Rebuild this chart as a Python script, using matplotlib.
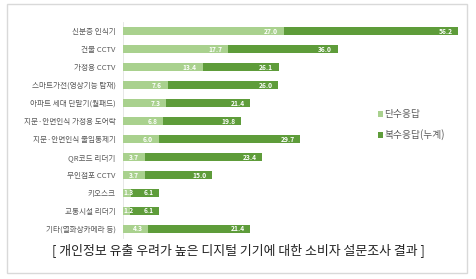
import matplotlib
matplotlib.use('Agg')
import matplotlib.pyplot as plt
from matplotlib.patches import Rectangle

plt.rcParams['font.family'] = ['Noto Sans CJK KR', 'DejaVu Sans']

categories = ['신분증 인식기', '건물 CCTV', '가정용 CCTV', '스마트가전(영상기능 탑재)',
              '아파트 세대 단말기(월패드)', '지문·안면인식 가정용 도어락', '지문·안면인식 출입통제기',
              'QR코드 리더기', '무인점포 CCTV', '키오스크', '교통시설 리더기', '기타(열화상카메라 등)']
single = [27.0, 17.7, 13.4, 7.6, 7.3, 6.8, 6.0, 3.7, 3.7, 1.3, 1.2, 4.3]
multi = [56.2, 36.0, 26.1, 26.0, 21.4, 19.8, 29.7, 23.4, 15.0, 6.1, 6.1, 21.4]
series_names = ['단수응답', '복수응답(누계)']
caption = '[ 개인정보 유출 우려가 높은 디지털 기기에 대한 소비자 설문조사 결과 ]'

light = '#a9d18e'
dark = '#5e9c3a'

fig = plt.figure(figsize=(4.76, 2.79), dpi=100)
ax = fig.add_axes([0.258, 0.147, 0.727, 0.774])

y = list(range(len(categories)))
b2 = ax.barh(y, multi, height=0.45, color=dark, label=series_names[1], zorder=2)
b1 = ax.barh(y, single, height=0.45, color=light, label=series_names[0], zorder=3)

for yi, s, m in zip(y, single, multi):
    if s >= 3:
        ax.text(s - 1.0, yi, f'{s:.1f}', ha='right', va='center', fontsize=4.8,
                color='white', fontweight='bold', zorder=4)
    else:
        ax.text(s / 2 + 0.3, yi, f'{s:.1f}', ha='center', va='center', fontsize=4.8,
                color='white', fontweight='bold', zorder=4)
    ax.text(m - 0.9, yi, f'{m:.1f}', ha='right', va='center', fontsize=4.8,
            color='white', fontweight='bold', zorder=4)

ax.set_xlim(0, 58)
ax.set_ylim(len(categories) - 0.5, -0.5)
ax.set_yticks(y)
ax.set_yticklabels(categories, fontsize=5.5, color='#595959')
ax.set_xticks([])
ax.tick_params(axis='y', length=0, pad=5)
for sp in ['top', 'right', 'bottom']:
    ax.spines[sp].set_visible(False)
ax.spines['left'].set_color('#e3e3e3')
ax.spines['left'].set_linewidth(0.6)

ax.legend(handles=[b1, b2], loc='upper left', bbox_to_anchor=(0.775, 0.64),
          bbox_transform=fig.transFigure, frameon=False, fontsize=7,
          handlelength=0.5, handleheight=0.5, handletextpad=0.2,
          labelspacing=1.05, labelcolor='#595959')

fig.text(0.5, 0.105, caption, ha='center', va='center', fontsize=9.3, color='#222222')

fig.patches.append(Rectangle((0.015, 0.0215), 0.966, 0.964, transform=fig.transFigure,
                             fill=False, edgecolor='#d9d9d9', linewidth=1.0))

fig.savefig('out.png', dpi=100)
